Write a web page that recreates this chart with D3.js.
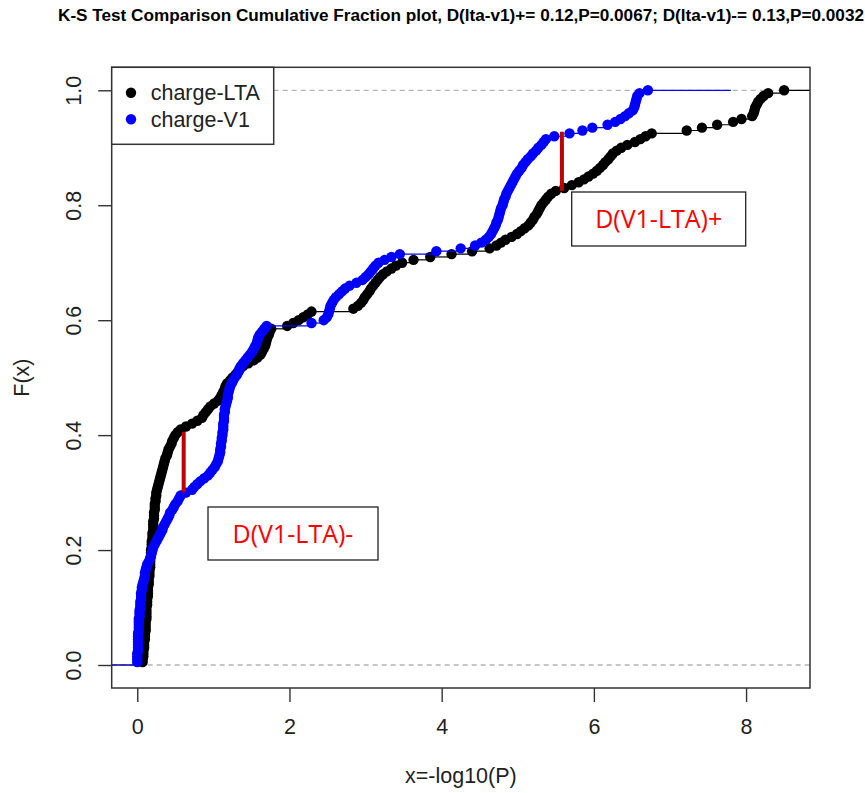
<!DOCTYPE html>
<html>
<head>
<meta charset="utf-8">
<script src="https://cdn.jsdelivr.net/npm/d3@7"></script>
<style>
  body { margin: 0; background: #fff; }
  .canvas { width: 865px; height: 793px; }
</style>
</head>
<body>
<div class="canvas"></div>
<script>
// sample values (-log10 P), sorted
const ltaValues = [
  0.07,0.07,0.08,0.08,0.08,0.09,0.09,0.09,0.10,0.10,
  0.10,0.11,0.11,0.11,0.11,0.12,0.12,0.12,0.12,0.12,
  0.13,0.13,0.13,0.14,0.14,0.14,0.14,0.15,0.15,0.15,
  0.16,0.16,0.16,0.17,0.17,0.17,0.17,0.18,0.18,0.18,
  0.19,0.19,0.19,0.20,0.20,0.20,0.21,0.21,0.21,0.21,
  0.22,0.22,0.22,0.23,0.23,0.23,0.24,0.24,0.25,0.25,
  0.26,0.27,0.28,0.29,0.30,0.31,0.32,0.33,0.34,0.35,
  0.36,0.37,0.39,0.40,0.41,0.43,0.45,0.46,0.48,0.50,
  0.53,0.57,0.64,0.72,0.79,0.85,0.87,0.90,0.93,0.96,
  1.01,1.06,1.09,1.11,1.13,1.15,1.16,1.18,1.22,1.25,
  1.29,1.32,1.35,1.39,1.46,1.53,1.58,1.62,1.64,1.66,
  1.68,1.69,1.70,1.71,1.73,1.74,1.76,1.97,2.05,2.12,
  2.18,2.24,2.29,2.84,2.90,2.94,2.97,2.99,3.02,3.05,
  3.07,3.10,3.13,3.16,3.19,3.23,3.28,3.34,3.40,3.48,
  3.63,3.85,4.13,4.40,4.63,4.72,4.78,4.84,4.92,4.99,
  5.04,5.09,5.14,5.17,5.20,5.22,5.25,5.27,5.29,5.31,
  5.34,5.37,5.40,5.44,5.50,5.61,5.71,5.80,5.87,5.93,
  5.99,6.04,6.08,6.12,6.15,6.19,6.22,6.25,6.30,6.36,
  6.44,6.54,6.61,6.68,6.76,7.22,7.42,7.62,7.83,7.94,
  8.08,8.10,8.11,8.12,8.14,8.16,8.19,8.23,8.29,8.50
];
const v1Values = [
  0.00,0.00,0.00,0.00,0.01,0.01,0.01,0.01,0.01,0.01,
  0.01,0.02,0.02,0.02,0.02,0.02,0.03,0.03,0.03,0.04,
  0.04,0.04,0.05,0.05,0.05,0.06,0.06,0.07,0.08,0.09,
  0.10,0.10,0.11,0.12,0.13,0.15,0.17,0.18,0.19,0.20,
  0.21,0.23,0.25,0.27,0.29,0.31,0.33,0.34,0.36,0.38,
  0.40,0.42,0.43,0.46,0.48,0.50,0.53,0.55,0.57,0.64,
  0.72,0.75,0.79,0.83,0.88,0.93,0.96,0.99,1.02,1.04,
  1.06,1.07,1.08,1.09,1.09,1.10,1.10,1.11,1.11,1.12,
  1.12,1.13,1.13,1.13,1.14,1.14,1.14,1.15,1.15,1.16,
  1.17,1.18,1.19,1.19,1.20,1.21,1.22,1.24,1.26,1.28,
  1.31,1.33,1.34,1.36,1.39,1.42,1.45,1.48,1.51,1.53,
  1.55,1.57,1.58,1.59,1.61,1.64,1.67,1.70,2.29,2.45,
  2.49,2.51,2.52,2.53,2.54,2.56,2.58,2.61,2.65,2.69,
  2.73,2.79,2.88,2.96,3.00,3.04,3.07,3.10,3.13,3.17,
  3.25,3.34,3.45,3.93,4.25,4.44,4.52,4.58,4.62,4.65,
  4.67,4.69,4.71,4.72,4.74,4.75,4.76,4.77,4.78,4.80,
  4.81,4.82,4.84,4.85,4.87,4.89,4.91,4.93,4.95,4.97,
  4.99,5.02,5.05,5.07,5.10,5.13,5.17,5.20,5.24,5.27,
  5.31,5.34,5.37,5.48,5.68,5.85,5.98,6.18,6.28,6.35,
  6.41,6.46,6.51,6.53,6.54,6.55,6.56,6.57,6.60,6.71
];
const v1TailEnd = 7.8;   // where the blue step line stops on the right

const seriesNames = ['charge-LTA', 'charge-V1'];
const seriesColors = ['#000000', '#0000ff'];
const xTicks = [0, 2, 4, 6, 8];
const yTicks = [0, 0.2, 0.4, 0.6, 0.8, 1.0];

// K-S distance markers: [x, F low, F high]
const dMinus = [0.61, 0.30, 0.406];
const dPlus  = [5.58, 0.825, 0.928];
const annLabels = ['D(V1-LTA)-', 'D(V1-LTA)+'];

const titleText = 'K-S Test Comparison Cumulative Fraction plot, D(lta-v1)+= 0.12,P=0.0067; D(lta-v1)-= 0.13,P=0.0032';

//---------------------------
const width = 865, height = 793;
const margin = { top: 67.3, right: 55, bottom: 105, left: 111.7 };
const graphWidth = width - margin.left - margin.right;
const graphHeight = height - margin.top - margin.bottom;

const svg = d3.select('.canvas').append('svg')
    .attr('width', width)
    .attr('height', height)
    .style('font-family', '"Liberation Sans", Arial, sans-serif');

const graph = svg.append('g')
    .attr('transform', `translate(${margin.left}, ${margin.top})`);

const x = d3.scaleLinear().domain([-0.336, 8.84]).range([0, graphWidth]);
const y = d3.scaleLinear().domain([-0.04, 1.04]).range([graphHeight, 0]);

graph.append('clipPath').attr('id', 'plotclip')
  .append('rect').attr('width', graphWidth).attr('height', graphHeight);

// dashed reference lines at 0 and 1
graph.selectAll('line.ref').data([0, 1]).enter()
  .append('line').attr('class', 'ref')
    .attr('x1', 0).attr('x2', graphWidth)
    .attr('y1', d => y(d)).attr('y2', d => y(d))
    .attr('stroke', '#b4b4b4').attr('stroke-width', 1.3)
    .attr('stroke-dasharray', '5,4');

const plot = graph.append('g').attr('clip-path', 'url(#plotclip)');

// step lines and points of each ecdf
function drawEcdf(vals, color, tailEnd) {
  const n = vals.length;
  const segs = [[x.domain()[0], vals[0], 0]];
  for (let i = 0; i < n - 1; i++) segs.push([vals[i], vals[i + 1], (i + 1) / n]);
  segs.push([vals[n - 1], tailEnd, 1]);

  plot.append('g').selectAll('line').data(segs).enter()
    .append('line')
      .attr('x1', d => x(d[0])).attr('x2', d => x(d[1]))
      .attr('y1', d => y(d[2])).attr('y2', d => y(d[2]))
      .attr('stroke', color).attr('stroke-width', 1.2);

  plot.append('g').selectAll('circle').data(vals).enter()
    .append('circle')
      .attr('cx', d => x(d))
      .attr('cy', (d, i) => y((i + 1) / n))
      .attr('r', 5.2)
      .attr('fill', color);
}
drawEcdf(ltaValues, seriesColors[0], x.domain()[1]);
drawEcdf(v1Values, seriesColors[1], v1TailEnd);

// red D markers
plot.selectAll('line.dmark').data([dMinus, dPlus]).enter()
  .append('line').attr('class', 'dmark')
    .attr('x1', d => x(d[0])).attr('x2', d => x(d[0]))
    .attr('y1', d => y(d[1])).attr('y2', d => y(d[2]))
    .attr('stroke', '#c00000').attr('stroke-width', 4);

// frame
graph.append('rect')
    .attr('width', graphWidth).attr('height', graphHeight)
    .attr('fill', 'none').attr('stroke', '#333').attr('stroke-width', 1.5);

// axes
const xAxisGroup = graph.append('g').attr('transform', `translate(0, ${graphHeight})`);
xAxisGroup.call(d3.axisBottom(x).tickValues(xTicks).tickFormat(d3.format('d')).tickSize(14).tickSizeOuter(0));
xAxisGroup.select('.domain').remove();
xAxisGroup.selectAll('line').attr('stroke', '#333').attr('stroke-width', 1.4);
xAxisGroup.selectAll('text')
    .attr('y', 45.6).attr('dy', 0)
    .attr('font-size', 21.5).attr('fill', '#222')
    .style('font-family', '"Liberation Sans", Arial, sans-serif');

const yAxisGroup = graph.append('g');
yAxisGroup.call(d3.axisLeft(y).tickValues(yTicks).tickFormat(d3.format('.1f')).tickSize(13.5).tickSizeOuter(0));
yAxisGroup.select('.domain').remove();
yAxisGroup.selectAll('line').attr('stroke', '#333').attr('stroke-width', 1.4);
yAxisGroup.selectAll('text')
    .attr('x', 0).attr('dy', 0)
    .attr('transform', 'translate(-31,0) rotate(-90)')
    .attr('text-anchor', 'middle')
    .attr('font-size', 21.5).attr('fill', '#222')
    .style('font-family', '"Liberation Sans", Arial, sans-serif');

// axis titles
svg.append('text')
    .attr('x', margin.left + graphWidth / 2).attr('y', 783)
    .attr('text-anchor', 'middle').attr('font-size', 21.5).attr('fill', '#222')
    .text('x=-log10(P)');
svg.append('text')
    .attr('transform', `translate(29, ${margin.top + graphHeight / 2}) rotate(-90)`)
    .attr('text-anchor', 'middle').attr('font-size', 21.5).attr('fill', '#222')
    .text('F(x)');

// main title
svg.append('text')
    .attr('x', 58).attr('y', 21)
    .attr('font-size', 16).attr('font-weight', 'bold')
    .attr('textLength', 806).attr('lengthAdjust', 'spacingAndGlyphs')
    .text(titleText);

// legend
const legend = graph.append('g');
legend.append('rect')
    .attr('x', 0).attr('y', 0).attr('width', 162).attr('height', 77)
    .attr('fill', '#fff').attr('stroke', '#333').attr('stroke-width', 1.5);
seriesNames.forEach((name, i) => {
  legend.append('circle')
      .attr('cx', 19.3).attr('cy', 25.4 + i * 26.6).attr('r', 5.2)
      .attr('fill', seriesColors[i]);
  legend.append('text')
      .attr('x', 39).attr('y', 25.4 + i * 26.6).attr('dy', '0.36em')
      .attr('font-size', 21.5).attr('fill', '#222')
      .text(name);
});

// annotation boxes (drawn over the plot)
const annBoxes = [
  { box: [208, 507, 170, 53], label: annLabels[0] },
  { box: [571.7, 192, 174, 54], label: annLabels[1] }
];
annBoxes.forEach(a => {
  const [bx, by, bw, bh] = a.box;
  svg.append('rect')
      .attr('x', bx).attr('y', by).attr('width', bw).attr('height', bh)
      .attr('fill', '#fff').attr('stroke', '#222').attr('stroke-width', 1.3);
  svg.append('text')
      .attr('x', bx + bw / 2).attr('y', by + bh / 2).attr('dy', '0.36em')
      .attr('text-anchor', 'middle')
      .attr('font-size', 25).attr('fill', '#ff0000')
      .style('font-family', '"Open Sans", Lato, sans-serif')
      .text(a.label);
});
</script>
</body>
</html>
